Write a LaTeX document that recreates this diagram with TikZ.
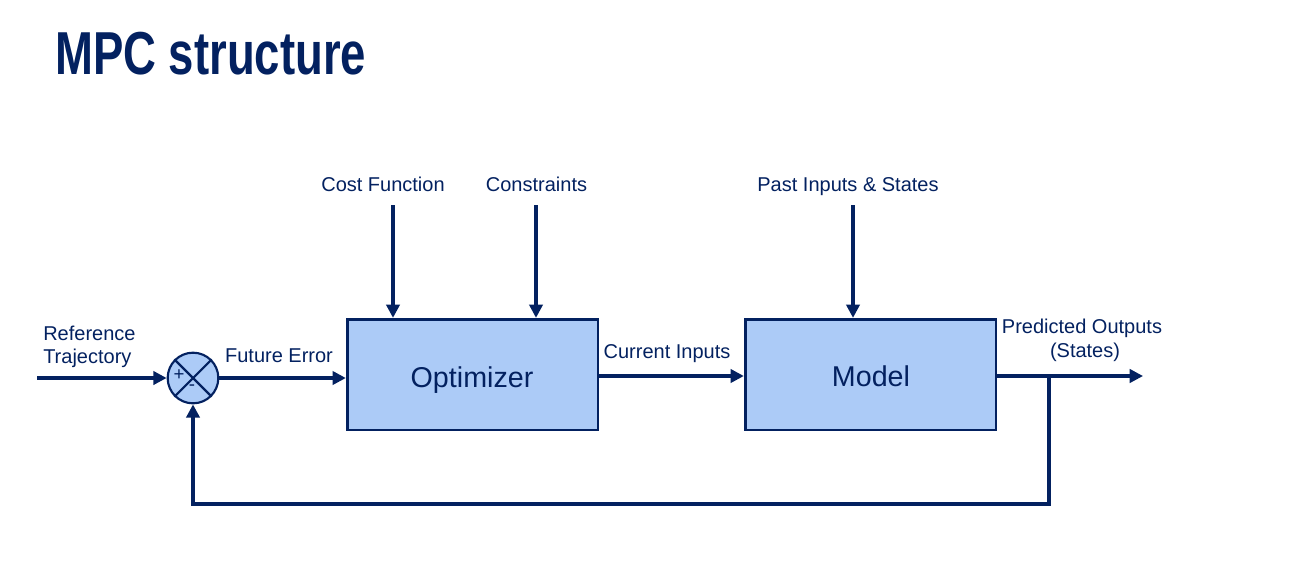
\documentclass[tikz,border=0pt]{standalone}
\usepackage{fontspec}
\setmainfont{Liberation Sans}
\newfontfamily\titlefont[FakeStretch=0.75]{Liberation Sans Bold}
\usetikzlibrary{arrows.meta}
\definecolor{navy}{RGB}{3,33,96}
\definecolor{boxfill}{RGB}{172,203,247}
\begin{document}
\begin{tikzpicture}[x=0.75pt,y=-0.75pt,
  blk/.style={draw=navy,line width=2pt,fill=boxfill,minimum width=188pt,minimum height=83pt,inner sep=0pt},
  blktext/.style={text=navy,inner sep=0pt,anchor=base,font=\fontsize{21.5}{24}\selectfont},
  sumj/.style={circle,draw=navy,line width=1.6pt,fill=boxfill,minimum size=38pt,inner sep=0pt},
  lbl/.style={text=navy,font=\fontsize{15}{18}\selectfont,inner sep=0pt},
  conn/.style={draw=navy,line width=2.4pt},
  arr/.style={conn,-{Triangle[length=10pt,width=10pt]}}
]
\useasboundingbox (0,0) rectangle (1305,565);
\node[anchor=base west,text=navy,inner sep=0pt,font=\titlefont\fontsize{45.5}{50}\selectfont] (title) at (55,74) {MPC structure};

\node[blk] (opt) at (472.5,374.5) {};
\node[blktext] (opttext) at (472,387) {Optimizer};
\node[blk] (model) at (870.5,374.5) {};
\node[blktext] (modeltext) at (871,386) {Model};
\node[sumj] (sum) at (193,378) {};
\draw[navy,line width=1.6pt] (sum.north west) -- (sum.south east) (sum.north east) -- (sum.south west);
\node[text=navy,inner sep=0pt,font=\fontsize{14}{14}\selectfont] (plus) at (179,375) {+};
\node[text=navy,inner sep=0pt,font=\fontsize{14}{14}\selectfont] (minus) at (192,388) {-};

\coordinate (ref) at (37,378);
\coordinate (out) at (1143,376);
\coordinate (br) at (1049,504);
\coordinate (c1) at (393,205);
\coordinate (c2) at (536,205);
\coordinate (c3) at (853,205);

\draw[arr] (ref) -- (sum.west);
\draw[arr] (sum.east) -- (sum.east -| opt.west);
\draw[arr] (opt.east |- 0,376) -- (model.west |- 0,376);
\draw[arr] (model.east |- 0,376) -- (out);
\draw[arr] (br |- out) -- (br) -| (sum.south);
\draw[arr] (c1) -- (c1 |- opt.north);
\draw[arr] (c2) -- (c2 |- opt.north);
\draw[arr] (c3) -- (c3 |- model.north);

\node[lbl,anchor=base] (lcost) at (383,191) {Cost Function};
\node[lbl,anchor=base] (lcons) at (536.5,191) {Constraints};
\node[lbl,anchor=base] (lpast) at (848,191) {Past Inputs \& States};
\node[lbl,anchor=base west] (lref1) at (43,340) {Reference};
\node[lbl,anchor=base west] (lref2) at (43,363) {Trajectory};
\node[lbl,anchor=base] (lfe) at (279,362) {Future Error};
\node[lbl,anchor=base] (lci) at (667,358) {Current Inputs};
\node[lbl,anchor=base] (lpo1) at (1082,333) {Predicted Outputs};
\node[lbl,anchor=base] (lpo2) at (1085,357) {(States)};
\end{tikzpicture}
\end{document}
